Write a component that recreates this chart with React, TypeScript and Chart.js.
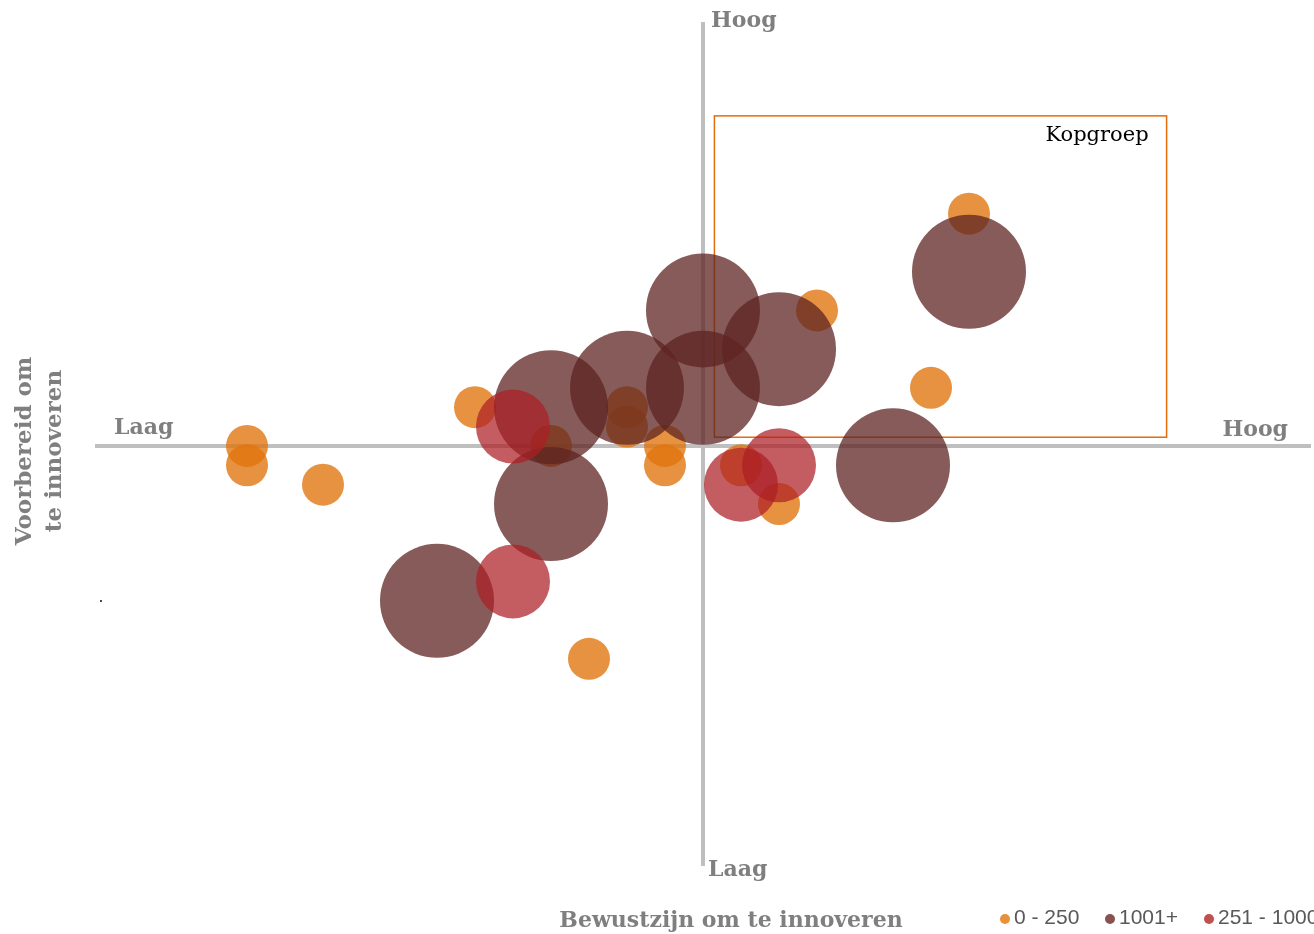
import React, { useEffect, useRef } from "react";
import { Chart, registerables } from "chart.js";

Chart.register(...registerables);

const seriesNames = ["0 - 250", "1001+", "251 - 1000"];
const seriesColors = ["rgba(224,115,12,0.78)", "rgba(94,36,34,0.75)", "rgba(172,30,36,0.72)"];
const legendColors = ["#E8913A", "#87524F", "#C0504D"];

// [x, y, size]
const small: number[][] = [
  [-12, 0, 21], [-12, -1, 21], [-10, -2, 21], [-6, 2, 21], [-4, 0, 21], [-3, -11, 21],
  [-2, 2, 21], [-2, 1, 21], [-1, 0, 21], [-1, -1, 21], [1, -1, 21], [2, -3, 21],
  [3, 7, 21], [6, 3, 21], [7, 12, 21],
];
const large: number[][] = [
  [0, 7, 57], [2, 5, 57], [7, 9, 57], [-2, 3, 57], [0, 3, 57], [-4, 2, 57],
  [-4, -3, 57], [-7, -8, 57], [5, -1, 57],
];
const medium: number[][] = [
  [-5, 1, 37], [-5, -7, 37], [1, -2, 37], [2, -1, 37],
];

const xRange = [-16, 16];
const yRange = [-21.7, 21.9];
const boxX = [0.3, 12.2];
const boxY = [0.45, 17.05];

const xTitle = "Bewustzijn om te innoveren";
const yTitle = ["Voorbereid om", "te innoveren"];
const lowLabel = "Laag";
const highLabel = "Hoog";
const boxLabel = "Kopgroep";

const toPts = (a: number[][]) => a.map(([x, y, r]) => ({ x, y, r }));

export default function App() {
  const ref = useRef<HTMLCanvasElement>(null);
  useEffect(() => {
    document.body.style.margin = "0";
    const serif = "'DejaVu Serif', serif";
    const overlay = {
      id: "overlay",
      beforeDatasetsDraw(chart: any) {
        const { ctx, scales } = chart;
        const xs = scales.x, ys = scales.y;
        const x0 = xs.getPixelForValue(0), y0 = ys.getPixelForValue(0);
        ctx.save();
        ctx.strokeStyle = "#bfbfbf";
        ctx.lineWidth = 4;
        ctx.beginPath();
        ctx.moveTo(xs.getPixelForValue(xRange[0]), y0);
        ctx.lineTo(xs.getPixelForValue(xRange[1]), y0);
        ctx.moveTo(x0, ys.getPixelForValue(yRange[1]));
        ctx.lineTo(x0, ys.getPixelForValue(yRange[0]));
        ctx.stroke();
        // box
        const bx1 = xs.getPixelForValue(boxX[0]), bx2 = xs.getPixelForValue(boxX[1]);
        const by1 = ys.getPixelForValue(boxY[1]), by2 = ys.getPixelForValue(boxY[0]);
        ctx.strokeStyle = "#E36C0A";
        ctx.lineWidth = 1.5;
        ctx.strokeRect(bx1, by1, bx2 - bx1, by2 - by1);
        ctx.fillStyle = "#000";
        ctx.font = `21px ${serif}`;
        ctx.textAlign = "right";
        ctx.textBaseline = "middle";
        ctx.fillText(boxLabel, bx2 - 18, by1 + 20);
        // quadrant labels
        ctx.fillStyle = "#7f7f7f";
        ctx.font = `bold 22px ${serif}`;
        ctx.textAlign = "left";
        ctx.fillText(lowLabel, 114, y0 - 18);
        ctx.textAlign = "right";
        ctx.fillText(highLabel, 1288, y0 - 16);
        ctx.textAlign = "left";
        ctx.fillText(highLabel, x0 + 8, 21);
        ctx.fillText(lowLabel, x0 + 5, 870);
        // titles
        ctx.textAlign = "center";
        ctx.fillText(xTitle, 731, 921);
        ctx.save();
        ctx.translate(25, 451);
        ctx.rotate(-Math.PI / 2);
        ctx.font = `bold 23px ${serif}`;
        ctx.fillText(yTitle[0], 0, 0);
        ctx.fillText(yTitle[1], 0, 30);
        ctx.restore();
        ctx.fillStyle = "#000";
        ctx.font = `14px ${serif}`;
        ctx.fillText(".", 101, 598);
        // legend
        ctx.font = "21px 'Liberation Sans', Arial, sans-serif";
        ctx.textAlign = "left";
        const lx = [1005, 1110, 1209];
        seriesNames.forEach((n, i) => {
          ctx.fillStyle = legendColors[i];
          ctx.beginPath();
          ctx.arc(lx[i], 919, 5, 0, Math.PI * 2);
          ctx.fill();
          ctx.fillStyle = "#595959";
          ctx.fillText(n, lx[i] + 9, 918);
        });
        ctx.restore();
      },
    };
    const chart = new Chart(ref.current!, {
      type: "bubble",
      data: {
        datasets: [
          { label: seriesNames[0], data: toPts(small), backgroundColor: seriesColors[0], borderWidth: 0, order: 2 },
          { label: seriesNames[1], data: toPts(large), backgroundColor: seriesColors[1], borderWidth: 0, order: 1 },
          { label: seriesNames[2], data: toPts(medium), backgroundColor: seriesColors[2], borderWidth: 0, order: 0 },
        ],
      },
      options: {
        responsive: false,
        animation: false,
        events: [],
        layout: { autoPadding: false, padding: { left: 95, right: 3, top: 22, bottom: 68 } },
        plugins: { legend: { display: false }, tooltip: { enabled: false } },
        scales: {
          x: { display: false, min: xRange[0], max: xRange[1] },
          y: { display: false, min: yRange[0], max: yRange[1] },
        },
        clip: false as any,
      },
      plugins: [overlay],
    });
    return () => chart.destroy();
  }, []);
  return (
    <div style={{ width: 1314, height: 934 }}>
      <canvas ref={ref} width={1314} height={934} style={{ display: "block" }} />
    </div>
  );
}
